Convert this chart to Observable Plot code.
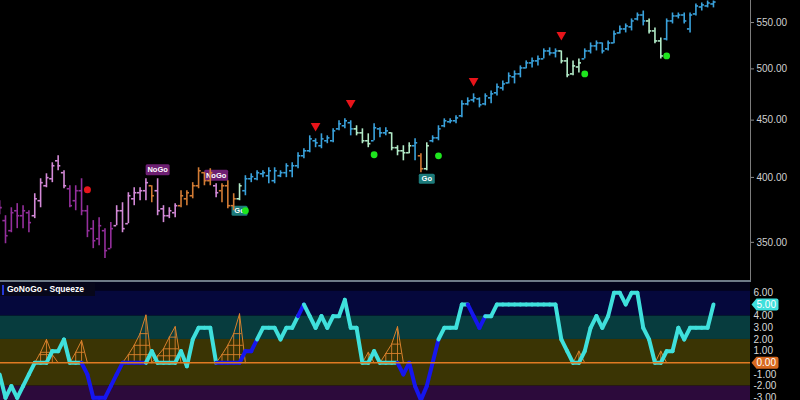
<!DOCTYPE html>
<html><head><meta charset="utf-8">
<script src="https://cdn.jsdelivr.net/npm/d3@7"></script>
<script src="https://cdn.jsdelivr.net/npm/@observablehq/plot@0.6"></script>
<style>
html,body{margin:0;padding:0;background:#000;}
#wrap{position:relative;width:800px;height:400px;background:#000;overflow:hidden;font-family:"Liberation Sans",Arial,sans-serif;}
#top{position:absolute;left:0;top:0;}
#bot{position:absolute;left:0;top:282px;}
#vline{position:absolute;left:750px;top:0;width:1px;height:281px;background:#7d7d7d;}
#sep{position:absolute;left:0;top:280px;width:751px;height:2px;background:#6e7a86;}
#ttl{position:absolute;left:0;top:283px;height:13px;width:95px;background:#07071a;}
#ttl .bar{position:absolute;left:2px;top:2px;width:2px;height:10px;background:#2438d8;}
#ttl .txt{position:absolute;left:7px;top:0;font:bold 8.5px "Liberation Sans",Arial,sans-serif;color:#fff;line-height:13px;white-space:nowrap;}
</style></head>
<body>
<div id="wrap">
  <div id="top"></div>
  <div id="vline"></div>
  <div id="sep"></div>
  <div id="bot"></div>
  <div id="ttl"><div class="bar"></div><div class="txt">GoNoGo - Squeeze</div></div>
</div>
<script>
// ---- price bars (weekly OHLC) ----
const barHigh = [381.3,369.7,375.8,379.0,377.4,373.5,386.8,398.9,403.0,412.2,418.2,405.5,393.2,393.2,398.9,377.4,366.0,368.2,360.0,364.5,
377.4,379.7,387.6,391.6,391.6,398.9,393.2,398.9,377.4,375.8,379.0,389.2,389.2,395.7,408.0,403.9,407.2,394.8,394.8,397.3,
386.8,394.8,401.4,403.0,405.5,405.5,408.0,408.0,405.5,411.4,412.2,420.8,424.3,435.7,433.0,437.5,435.7,442.0,449.4,451.2,
449.4,444.8,442.0,437.5,446.6,443.0,443.0,438.4,426.9,426.9,429.5,433.0,419.9,429.5,435.7,444.8,451.2,451.2,454.0,468.2,
471.1,475.0,471.1,475.0,477.9,484.8,487.8,495.9,497.9,503.1,508.3,511.4,513.5,521.0,522.1,521.0,518.8,511.4,508.3,510.4,
521.0,527.4,529.6,527.4,529.6,540.6,546.2,548.4,554.1,560.9,563.2,554.1,544.0,532.9,554.1,560.9,560.9,560.9,560.9,571.4,
572.6,574.9,574.9];
const barLow = [370.5,349.0,357.0,360.0,360.0,357.0,367.5,375.8,391.6,395.7,405.5,390.8,375.8,373.5,369.7,353.4,345.5,347.6,338.5,345.5,
362.2,357.0,363.7,377.4,381.3,381.3,379.7,369.7,364.5,367.5,368.2,375.8,377.4,382.8,390.8,393.2,393.2,383.6,379.7,375.0,
373.5,381.3,385.2,395.7,397.3,399.8,394.8,394.8,399.8,399.8,399.8,407.2,415.6,420.8,425.2,424.3,428.7,429.5,440.2,442.0,
435.7,435.7,428.7,425.2,431.3,433.9,435.7,422.5,418.2,413.9,419.9,413.9,403.9,405.5,429.5,431.3,443.0,446.6,446.6,452.1,
463.4,466.3,461.5,463.4,465.3,473.0,477.9,484.8,484.8,490.9,500.0,501.0,503.1,510.4,513.5,511.4,505.2,490.9,492.9,495.9,
510.4,515.6,518.8,515.6,518.8,526.4,537.3,538.4,540.6,551.8,546.2,537.3,526.4,510.4,529.6,548.4,554.1,548.4,538.4,557.5,
563.2,566.8,566.8];
const barOpen = [372.0,366.0,358.5,373.5,369.7,372.0,369.7,381.3,393.2,398.9,413.9,403.9,390.8,381.3,389.2,373.5,360.0,352.6,358.5,345.5,
362.2,373.5,363.7,382.8,387.6,389.2,393.2,389.2,375.0,369.7,372.0,377.4,382.8,385.2,393.2,403.9,397.3,393.2,389.2,393.2,
377.4,382.8,389.2,398.9,398.9,403.0,401.4,397.3,401.4,403.9,405.5,409.7,418.2,422.5,431.3,426.9,431.3,431.3,442.0,444.8,
447.6,442.0,438.4,431.3,431.3,442.0,438.4,438.4,425.2,422.5,420.8,426.9,418.2,407.2,431.3,433.9,444.8,448.5,449.4,454.0,
465.3,469.1,470.1,465.3,471.1,476.0,480.8,485.8,491.9,494.9,501.0,506.2,508.3,510.4,518.8,516.7,518.8,508.3,494.9,502.0,
510.4,518.8,524.2,527.4,521.0,527.4,538.4,542.8,545.1,554.1,558.6,551.8,540.6,529.6,531.8,551.8,557.5,558.6,542.8,559.8,
567.9,569.1,571.4];
const barClose = [375.9,354.8,372.0,369.7,373.5,364.5,382.8,395.7,399.8,409.7,409.7,393.2,377.4,389.2,373.5,358.5,351.2,362.2,344.1,360.0,
373.5,360.0,385.2,387.6,389.2,395.7,385.2,373.5,369.7,373.5,377.4,385.2,387.6,393.2,405.5,397.3,403.9,387.6,393.2,377.4,
382.8,393.2,398.9,400.6,403.9,403.9,405.5,405.5,403.9,409.7,409.7,418.2,422.5,433.0,429.5,433.0,433.9,440.2,446.6,449.4,
442.0,438.4,431.3,428.7,443.0,438.4,440.2,425.2,422.5,420.8,426.9,429.5,407.2,426.9,433.9,442.0,449.4,449.4,452.1,465.3,
468.2,471.1,464.4,473.0,475.0,481.8,484.8,492.9,494.9,501.0,506.2,508.3,510.4,518.8,516.7,518.8,508.3,493.9,503.1,506.2,
518.8,524.2,527.4,518.8,527.4,537.3,542.8,546.2,551.8,558.6,551.8,540.6,529.6,513.5,551.8,557.5,558.6,551.8,558.6,569.1,
570.3,572.6,573.7];
// trend tone per bar: P strong NoGo, K weak NoGo, O neutral, M weak Go, B strong Go
const barTone = ("PPPPPP"+"KKKKKK"+"PPPPPPPP"+"KKKKKK"+"O"+"KKKK"+"OOOOOO"+"K"+"OOO"+"M"+
  "BBBBBBBBBBBBBBBBBBB"+"MMM"+"BBB"+"MMMM"+"B"+"O"+"M"+"BBBBBBBBBBBBBBBBBBBBBB"+"MMMM"+
  "BBBBBBBBBBB"+"MMM"+"BBBBBBBBB").split("");
const tonePalette = {P:"#942f9c", K:"#d48ad8", O:"#d27b34", M:"#b2ebc8", B:"#3aa2dc"};
const priceTicks = [350, 400, 450, 500, 550];

// markers
const redTriIdx = [54, 60, 81, 96], redTriPrice = [444.8, 466.3, 487.8, 536.2];
const greenIdx = [42, 64, 75, 100, 114], greenPrice = [373.5, 419.1, 418.2, 494.9, 513.5];
const redDotIdx = [15], redDotPrice = [390.0];
const nogoIdx = [27, 37], nogoPrice = [406.3, 401.8];
const goIdx = [41, 73], goPrice = [373.5, 398.9];

// ---- GoNoGo oscillator ----
const osc = [
-1,-3,-2,-3,-2,-1,
0,0,0,1,1,2,
0,0,0,-1,-3,-3,
-3,-2,-1,0,0,0,
0,0,1,0,0,0,
0,1,-0.3,2,3,3,
3,0,0,0,0,0,
1,1,2,3,3,3,
2,3,3,4,5,4,
3,4,3,4,4,5.4,
3,3,0,0,1,0,
0,0,0,-1,0,-2,
-3.2,-2,0,2,3,3,
3,5,5,4,3,4,
4,5,5,5,5,5,
5,5,5,5,5,5,
2,1,0,0,1,3,
4,3,4,6,6,5,
6,6,3,2,0,0,
1,1,3,2,3,3,
3,3,5];
const oscBlueRanges = [[14,25],[37,44],[51,52],[68,75],[80,83]];
const oscTicks = [-3,-2,-1,0,1,2,3,4,5,6];
const bandLo = [6.15, 4, 2, -2, -3.5];
const bandHi = [7.5, 6.15, 4, 2, -2];
const bandFill = ["#03031a", "#05083c", "#073c3e", "#3a3404", "#2c0a3b"];
// squeeze tents
const squeezeStart = [6, 12, 21, 26, 37, 62, 65, 98, 112];
const squeezeVals = [[0,0.9,2,0.7,0],[0,0.9,1.9,0],[0,0.7,1.5,2.5,4.1,0],[0,0.6,1.2,2.2,3.1,0],
  [0,0.7,1.5,2.5,4.2,0],[0,0.9,0],[0,0.8,1.6,3.1,0],[0,1,0],[0,1,0]];

// ---- build tables ----
const bars = barHigh.map((h, i) => ({i, high: h, low: barLow[i], open: barOpen[i], close: barClose[i], col: tonePalette[barTone[i]]}));
const pts = (idx, pr) => idx.map((i, k) => ({i, p: pr[k]}));
const redTri = pts(redTriIdx, redTriPrice), greens = pts(greenIdx, greenPrice), redDots = pts(redDotIdx, redDotPrice);
const nogos = pts(nogoIdx, nogoPrice), gos = pts(goIdx, goPrice);

const CYAN = "#3fe0dc", BLUE = "#1616ee", ORANGE = "#e07a22", SQZ = "#d9812c";
const segs = [];
for (let k = 0; k < osc.length - 1; k++) {
  const blue = oscBlueRanges.some(([a, b]) => k >= a && k < b);
  segs.push({x1: k, y1: osc[k], x2: k + 1, y2: osc[k + 1], col: blue ? BLUE : CYAN});
}
const sqPts = [], sqBars = [], rungs = [];
squeezeStart.forEach((s, t) => {
  const vals = squeezeVals[t];
  const P = vals.map((v, j) => ({i: s + j, v, t}));
  P.forEach(p => { sqPts.push(p); if (p.v > 0) sqBars.push(p); });
  const peak = Math.max(...vals);
  vals.filter(v => v > 0 && v < peak).forEach(L => {
    let xl = null, xr = null;
    for (let k = 0; k < P.length - 1; k++) {
      const a = P[k], b = P[k + 1];
      if (xl === null && a.v <= L && b.v >= L && b.v > a.v) xl = a.i + (L - a.v) / (b.v - a.v);
      if (a.v >= L && b.v <= L && a.v > b.v) xr = a.i + (a.v - L) / (a.v - b.v);
    }
    if (xl !== null && xr !== null) rungs.push({v: L, x1: xl, x2: xr});
  });
});
const bands = bandLo.map((lo, k) => ({lo, hi: bandHi[k], fill: bandFill[k]}));
const lastOsc = osc[osc.length - 1];
const tagValues = [lastOsc, 0];
const tagFills = [CYAN, "#d8691f"];
const axisTicks = oscTicks.filter(t => !tagValues.includes(t));
const tags = tagValues.map((v, k) => ({v, fill: tagFills[k]}));

// symbols
const boxSym = (w, h) => ({draw(ctx) {
  const r = 1.5, x0 = -w / 2, x1 = w / 2, y0 = -h / 2, y1 = h / 2;
  ctx.moveTo(x0 + r, y0); ctx.lineTo(x1 - r, y0); ctx.arcTo(x1, y0, x1, y0 + r, r);
  ctx.lineTo(x1, y1 - r); ctx.arcTo(x1, y1, x1 - r, y1, r); ctx.lineTo(x0 + r, y1);
  ctx.arcTo(x0, y1, x0, y1 - r, r); ctx.lineTo(x0, y0 + r); ctx.arcTo(x0, y0, x0 + r, y0, r); ctx.closePath();
}});
const tagSym = {draw(ctx) {
  ctx.moveTo(0, 0); ctx.lineTo(5, -6); ctx.lineTo(25, -6); ctx.arcTo(27, -6, 27, -4, 2);
  ctx.lineTo(27, 4); ctx.arcTo(27, 6, 25, 6, 2); ctx.lineTo(5, 6); ctx.closePath();
}};

const xDomain = [0.145, 128.33];
const font = '"Liberation Sans", Arial, sans-serif';

const topChart = Plot.plot({
  width: 800, height: 280, marginLeft: 0, marginRight: 50, marginTop: 0, marginBottom: 0,
  style: {background: "transparent", color: "#d0d0d0", fontSize: "10px", fontFamily: font},
  x: {domain: xDomain, axis: null},
  y: {type: "log", domain: [323.6, 575.5], axis: null},
  marks: [
    Plot.axisY({anchor: "right", ticks: priceTicks, tickFormat: d => d.toFixed(2), tickSize: 3, tickPadding: 3, stroke: "#8a8a8a", fill: "#d0d0d0", label: null}),
    Plot.dot(nogos, {x: "i", y: "p", symbol: boxSym(24, 11), fill: "#6d1f72", stroke: "none"}),
    Plot.text(nogos, {x: "i", y: "p", text: () => "NoGo", fill: "#ffffff", fontWeight: "bold", fontSize: 7.5}),
    Plot.dot(gos, {x: "i", y: "p", symbol: boxSym(16, 10), fill: "#1c7b7b", stroke: "none"}),
    Plot.text(gos, {x: "i", y: "p", text: () => "Go", fill: "#ffffff", fontWeight: "bold", fontSize: 7.5}),
    Plot.ruleX(bars, {x: "i", y1: "low", y2: "high", stroke: d => d.col, strokeWidth: 1.6}),
    Plot.ruleY(bars, {y: "open", x1: d => d.i - 0.45, x2: "i", stroke: d => d.col, strokeWidth: 1.6}),
    Plot.ruleY(bars, {y: "close", x1: "i", x2: d => d.i + 0.45, stroke: d => d.col, strokeWidth: 1.6}),
    Plot.dot(redTri, {x: "i", y: "p", symbol: "triangle", rotate: 180, r: 3.6, fill: "#e8141a", stroke: "none"}),
    Plot.dot(greens, {x: "i", y: "p", r: 3.4, fill: "#1ee61e", stroke: "none"}),
    Plot.dot(redDots, {x: "i", y: "p", r: 3.5, fill: "#e8141a", stroke: "none"})
  ]
});
document.getElementById("top").appendChild(topChart);

const botChart = Plot.plot({
  width: 800, height: 118, marginLeft: 0, marginRight: 50, marginTop: 0, marginBottom: 0,
  style: {background: "transparent", color: "#d8d8d8", fontSize: "10px", fontFamily: font},
  x: {domain: xDomain, axis: null},
  y: {domain: [-3.231, 6.883], axis: null},
  marks: [
    Plot.rect(bands, {y1: "lo", y2: "hi", fill: d => d.fill}),
    Plot.axisY({anchor: "right", ticks: axisTicks, tickFormat: d => d.toFixed(2), tickSize: 0, tickPadding: 3, fill: "#d8d8d8", label: null}),
    Plot.ruleX(sqBars, {x: "i", y1: 0, y2: "v", stroke: SQZ, strokeWidth: 0.9}),
    Plot.ruleY(rungs, {y: "v", x1: "x1", x2: "x2", stroke: SQZ, strokeWidth: 0.9}),
    Plot.line(sqPts, {x: "i", y: "v", z: "t", stroke: SQZ, strokeWidth: 1}),
    Plot.link(segs, {x1: "x1", y1: "y1", x2: "x2", y2: "y2", stroke: d => d.col, strokeWidth: 4, strokeLinecap: "round"}),
    Plot.ruleY([0], {stroke: ORANGE, strokeWidth: 1.5}),
    Plot.dot(tags, {y: "v", frameAnchor: "right", dx: 1, symbol: tagSym, fill: d => d.fill, stroke: "none"}),
    Plot.text(tags, {y: "v", frameAnchor: "right", dx: 6, textAnchor: "start", text: d => d.v.toFixed(2), fill: "#ffffff", fontSize: 10})
  ]
});
document.getElementById("bot").appendChild(botChart);
</script>
</body></html>
